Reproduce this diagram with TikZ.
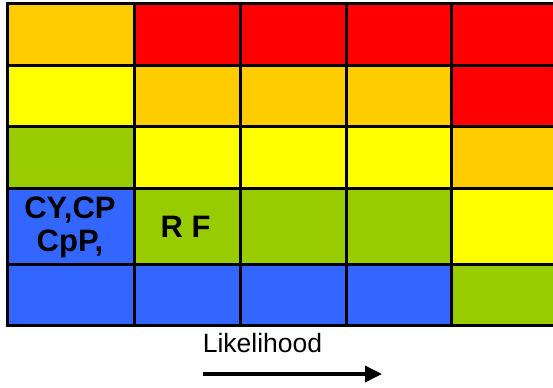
\documentclass[tikz,border=0pt]{standalone}
\usepackage{fontspec}
\setmainfont{Liberation Sans}
\usetikzlibrary{arrows.meta}

\definecolor{rorange}{HTML}{FFCC00}
\definecolor{rred}{HTML}{FF0000}
\definecolor{ryellow}{HTML}{FFFF00}
\definecolor{rgreen}{HTML}{99CC00}
\definecolor{rblue}{HTML}{3366FF}

\def\colx{{7,134,240,346,451,557}}
\def\rowy{{3,65,126,188,264,325}}

\begin{document}
\begin{tikzpicture}[x=1bp,y=-1bp,
    cellText/.style={font=\bfseries\fontsize{31bp}{33bp}\selectfont, inner sep=0pt},
    axisText/.style={font=\fontsize{26.5bp}{30bp}\selectfont, inner sep=0pt}]
    \useasboundingbox (0,0) rectangle (553,387);
    \clip (0,0) rectangle (553,387);

    % Risk cells, row by row from the top
    \foreach \r/\cols in {0/{rorange,rred,rred,rred,rred},
                          1/{ryellow,rorange,rorange,rorange,rred},
                          2/{rgreen,ryellow,ryellow,ryellow,rorange},
                          3/{rblue,rgreen,rgreen,rgreen,ryellow},
                          4/{rblue,rblue,rblue,rblue,rgreen}}{
        \foreach \c [count=\i from 0] in \cols {
            \pgfmathsetmacro\xa{\colx[\i]}
            \pgfmathsetmacro\xb{\colx[\i+1]}
            \pgfmathsetmacro\ya{\rowy[\r]}
            \pgfmathsetmacro\yb{\rowy[\r+1]}
            \filldraw[fill=\c, draw=black, line width=3bp] (\xa,\ya) rectangle (\xb,\yb);
        }
    }

    % Cell labels
    \node[cellText, align=center] (lowList) at (70,227) {CY,CP\\CpP,};
    \node[cellText, anchor=base] (rf) at (185.5,237) {R F};

    % Axis
    \node[axisText, anchor=base] (likelihood) at (262.5,352) {Likelihood};
    \coordinate (arrowStart) at (203,374);
    \coordinate (arrowEnd) at (382,374);
    \draw[line width=3.5bp, -{Triangle[length=17bp,width=16bp]}] (arrowStart) -- (arrowEnd);

\end{tikzpicture}
\end{document}
